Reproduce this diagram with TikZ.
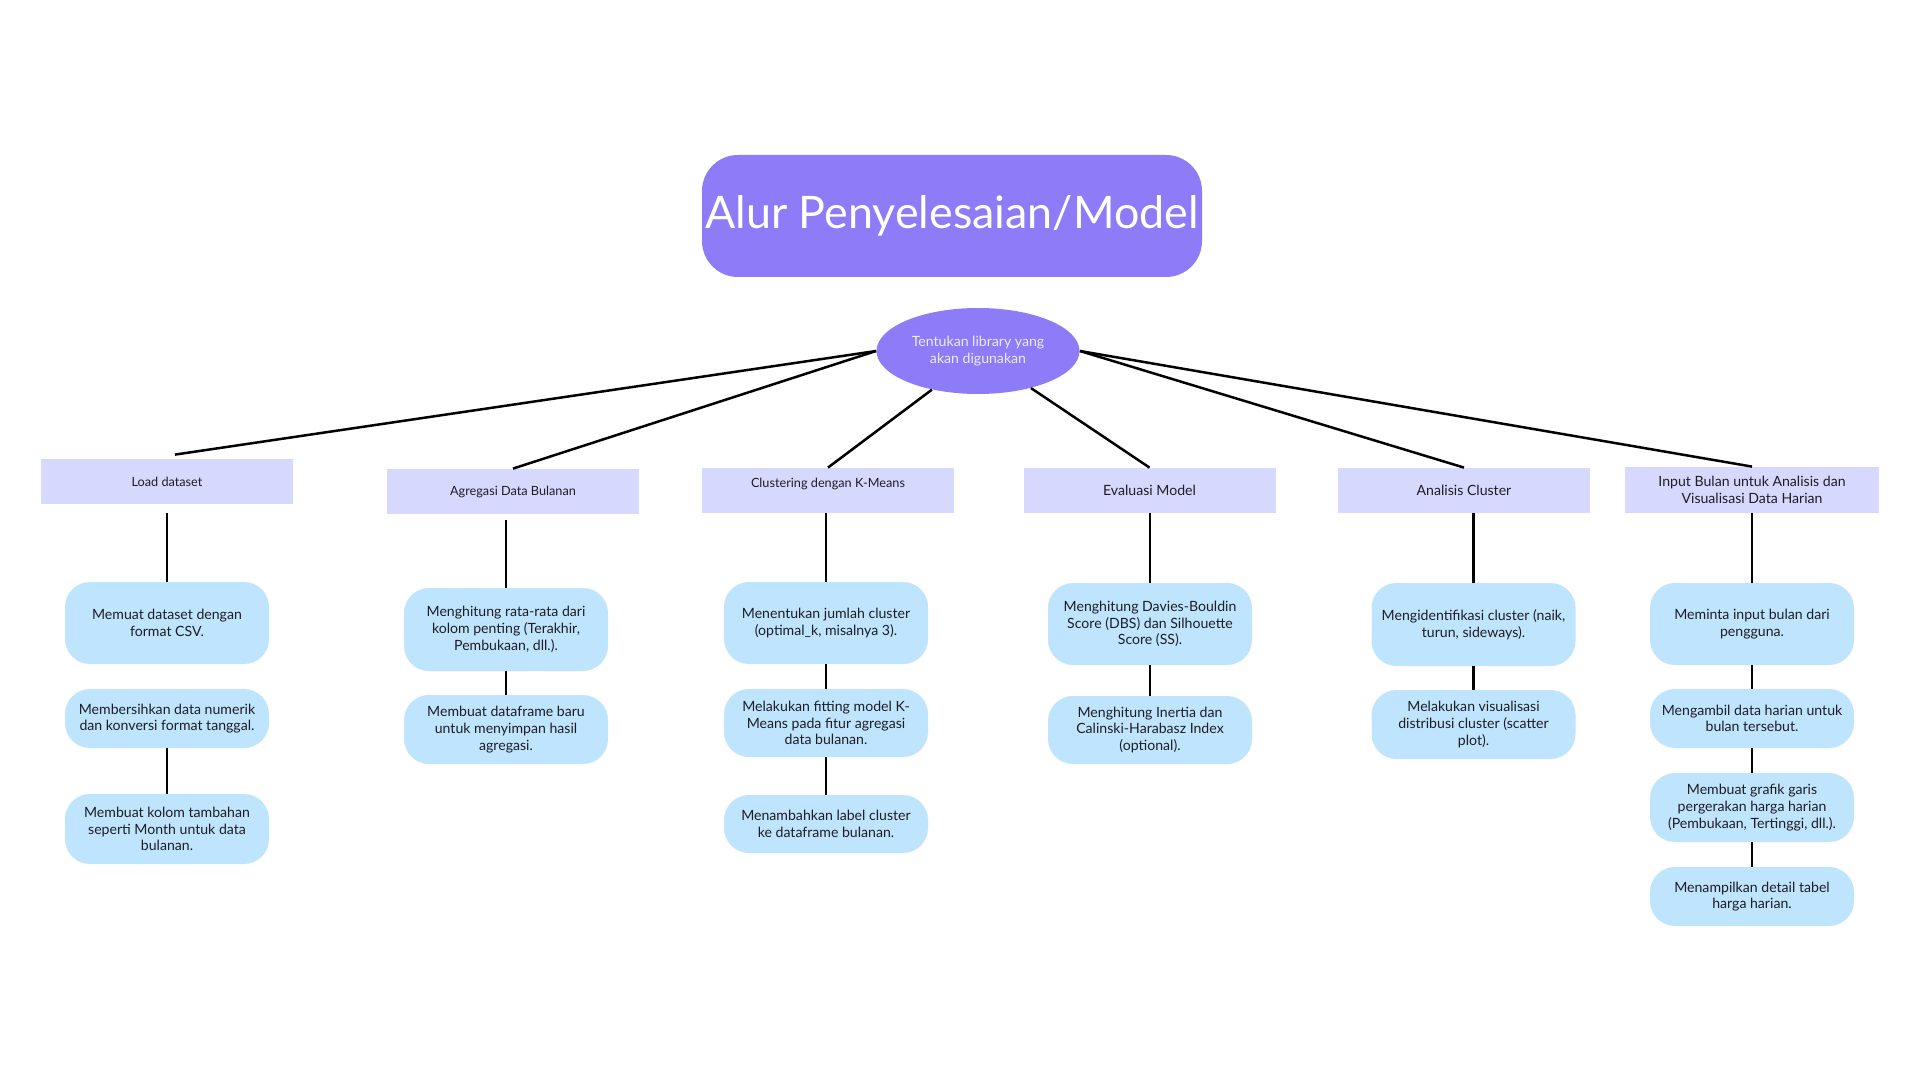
\documentclass[tikz,border=0pt]{standalone}
\usepackage{fontspec}
\setmainfont{Lato}
\usetikzlibrary{shapes.geometric}
\definecolor{titlec}{HTML}{8E7BF7}
\definecolor{lvone}{HTML}{D7D8FD}
\definecolor{childc}{HTML}{BFE4FD}
\definecolor{ovaltext}{HTML}{EEEAFF}
\definecolor{txt}{HTML}{1E1E24}
\begin{document}
\begin{tikzpicture}[x=0.5pt,y=-0.5pt,
  conn/.style={line width=1.25pt,black},
  lvbox/.style={fill=lvone,minimum width=126pt,minimum height=22.5pt,inner sep=0pt,align=center,text=txt},
  smallf/.style={font=\fontsize{6.35}{7.6}\selectfont},
  bigf/.style={font=\fontsize{7.05}{8.4}\selectfont},
  child/.style={fill=childc,rounded corners=12.5pt,minimum width=102pt,inner sep=0pt,align=center,text=txt,font=\fontsize{7.05}{8.35}\selectfont}]
\useasboundingbox (0,0) rectangle (1920,1080);
\fill[white] (0,0) rectangle (1920,1080);
% title
\node[fill=titlec,rounded corners=18pt,minimum width=250pt,minimum height=61pt,inner sep=0pt,text=white,font=\fontsize{22.4}{25}\selectfont] (title) at (952,216) {Alur Penyelesaian/Model};
% root ellipse
\node[ellipse,fill=titlec,minimum width=101.5pt,minimum height=43pt,inner sep=0pt,align=center,text=ovaltext,font=\fontsize{7.05}{8.5}\selectfont] (root) at (978,351) {Tentukan library yang\\akan digunakan};
% level one
\node[lvbox,smallf] (b1) at (167,481.5) {Load dataset};
\node[lvbox,smallf] (b2) at (513,491.5) {Agregasi Data Bulanan};
\node[lvbox,smallf,text depth=8pt] (b3) at (828,490.5) {Clustering dengan K-Means};
\node[lvbox,bigf] (b4) at (1149.5,490.5) {Evaluasi Model};
\node[lvbox,bigf] (b5) at (1464,490.5) {Analisis Cluster};
\node[lvbox,bigf,minimum width=127pt,minimum height=23pt] (b6) at (1752,490) {Input Bulan untuk Analisis dan\\Visualisasi Data Harian};
% children col 1
\node[child,minimum height=41pt] (c11) at (167,623) {Memuat dataset dengan\\format CSV.};
\node[child,minimum height=29.5pt] (c12) at (167,718.5) {Membersihkan data numerik\\dan konversi format tanggal.};
\node[child,minimum height=35pt] (c13) at (167,829) {Membuat kolom tambahan\\seperti Month untuk data\\bulanan.};
% col 2
\node[child,minimum height=41.5pt] (c21) at (506,629.5) {Menghitung rata-rata dari\\kolom penting (Terakhir,\\Pembukaan, dll.).};
\node[child,minimum height=34.5pt] (c22) at (506,729.5) {Membuat dataframe baru\\untuk menyimpan hasil\\agregasi.};
% col 3
\node[child,minimum height=41pt] (c31) at (826,623) {Menentukan jumlah cluster\\(optimal\_k, misalnya 3).};
\node[child,minimum height=34pt] (c32) at (826,723) {Melakukan fitting model K-\\Means pada fitur agregasi\\data bulanan.};
\node[child,minimum height=29pt] (c33) at (826,824) {Menambahkan label cluster\\ke dataframe bulanan.};
% col 4
\node[child,minimum height=41pt] (c41) at (1150,624) {Menghitung Davies-Bouldin\\Score (DBS) dan Silhouette\\Score (SS).};
\node[child,minimum height=34pt] (c42) at (1150,730) {Menghitung Inertia dan\\Calinski-Harabasz Index\\(optional).};
% col 5
\node[child,minimum height=41.5pt] (c51) at (1473.5,624.5) {Mengidentifikasi cluster (naik,\\turun, sideways).};
\node[child,minimum height=34.5pt] (c52) at (1473.5,724.5) {Melakukan visualisasi\\distribusi cluster (scatter\\plot).};
% col 6
\node[child,minimum height=41pt] (c61) at (1752,624) {Meminta input bulan dari\\pengguna.};
\node[child,minimum height=29.5pt] (c62) at (1752,718.5) {Mengambil data harian untuk\\bulan tersebut.};
\node[child,minimum height=34.5pt] (c63) at (1752,807.5) {Membuat grafik garis\\pergerakan harga harian\\(Pembukaan, Tertinggi, dll.).};
\node[child,minimum height=29.5pt] (c64) at (1752,896.5) {Menampilkan detail tabel\\harga harian.};
% root connectors
\draw[conn] (root.west) -- ([shift={(4pt,2pt)}]b1.north);
\draw[conn] (root.west) -- (b2.north);
\draw[conn] (root.220) -- (b3.north);
\draw[conn] (root.-35) -- (b4.north);
\draw[conn] (root.east) -- (b5.north);
\draw[conn] (root.east) -- (b6.north);
% vertical connectors
\draw[conn] ([yshift=-4.5pt]c11.north |- b1.south) -- (c11.north);
\draw[conn] ([yshift=-3pt]c21.north |- b2.south) -- (c21.north);
\draw[conn] (c31.north |- b3.south) -- (c31.north);
\draw[conn] (c41.north |- b4.south) -- (c41.north);
\draw[conn] (c51.north |- b5.south) -- (c51.north);
\draw[conn] (c61.north |- b6.south) -- (c61.north);
\draw[conn] (c12) -- (c13);
\draw[conn] (c21) -- (c22);
\draw[conn] (c31) -- (c32);
\draw[conn] (c32) -- (c33);
\draw[conn] (c41) -- (c42);
\draw[conn] (c51) -- (c52);
\draw[conn] (c61) -- (c62);
\draw[conn] (c62) -- (c63);
\draw[conn] (c63) -- (c64);
\end{tikzpicture}
\end{document}
